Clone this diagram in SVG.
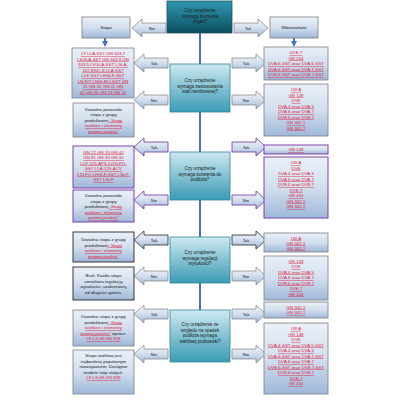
<svg xmlns="http://www.w3.org/2000/svg" width="400" height="400" viewBox="0 0 400 400">
<defs>
<linearGradient id="gBox" x1="0" y1="0" x2="0" y2="1"><stop offset="0" stop-color="#eaf0f8"/><stop offset="0.5" stop-color="#d3dfee"/><stop offset="1" stop-color="#9fb8da"/></linearGradient>
<linearGradient id="gArr" x1="0" y1="0" x2="0" y2="1"><stop offset="0" stop-color="#f2f5fa"/><stop offset="0.5" stop-color="#d3dfee"/><stop offset="1" stop-color="#9db6d8"/></linearGradient>
<linearGradient id="gQ" x1="0" y1="0" x2="0" y2="1"><stop offset="0" stop-color="#cde9f1"/><stop offset="1" stop-color="#3a9bb5"/></linearGradient>
<linearGradient id="gTop" x1="0" y1="0" x2="0" y2="1"><stop offset="0" stop-color="#2f98b0"/><stop offset="1" stop-color="#0b4f60"/></linearGradient>
<path id="arrL" d="M0,0 L10,-9 L10,-5 L34,-5 L34,5 L10,5 L10,9 Z"/>
<path id="arrR" d="M0,-5 L24,-5 L24,-9 L34,0 L24,9 L24,5 L0,5 Z"/>
<marker id="mDown" markerWidth="6" markerHeight="6" refX="3" refY="3" orient="auto" markerUnits="userSpaceOnUse"><path d="M0,0 L6,3 L0,6 Z" fill="#4472c4"/></marker>
</defs>
<style>
text{font-family:"Liberation Sans",Arial,sans-serif;text-anchor:middle}
.t{font-size:4.4px;fill:#1a1a1a}
.r{font-size:4.4px;fill:#e0203c;text-decoration:underline}
.rr{fill:#e0203c;text-decoration:underline}
.q{font-size:4.5px;fill:#1a1a1a}
.lb{font-size:4.3px;fill:#1a1a1a}
.box{fill:url(#gBox);stroke:#7f7f7f;stroke-width:0.8}
.boxp{fill:url(#gBox);stroke:#7030a0;stroke-width:0.9}
.boxd{fill:url(#gBox);stroke:#262626;stroke-width:0.9}
.qbox{fill:url(#gQ);stroke:#31859c;stroke-width:0.8}
.arr{fill:url(#gArr);stroke:#7f7f7f;stroke-width:0.7}
.arrp{fill:url(#gArr);stroke:#7030a0;stroke-width:0.8}
.arrd{fill:url(#gArr);stroke:#262626;stroke-width:0.8}
</style>

<g id="connectors">
<line x1="200" y1="33" x2="200" y2="310" stroke="#4472c4" stroke-width="2"/>
<line x1="105" y1="38" x2="105" y2="44" stroke="#4472c4" stroke-width="2" marker-end="url(#mDown)"/>
<line x1="294" y1="38" x2="294" y2="44" stroke="#4472c4" stroke-width="2" marker-end="url(#mDown)"/>
<use href="#arrL" class="arr" x="132" y="28"/><text class="lb" x="152" y="29.5">Nie</text>
<use href="#arrR" class="arr" x="234" y="28"/><text class="lb" x="248" y="29.5">Tak</text>
<use href="#arrL" class="arr" x="134" y="63"/><text class="lb" x="154" y="64.5">Tak</text>
<use href="#arrR" class="arr" x="232" y="63"/><text class="lb" x="246" y="64.5">Tak</text>
<use href="#arrL" class="arr" x="134" y="100"/><text class="lb" x="154" y="101.5">Nie</text>
<use href="#arrR" class="arr" x="232" y="100"/><text class="lb" x="246" y="101.5">Nie</text>
<use href="#arrL" class="arrp" x="134" y="147"/><text class="lb" x="154" y="148.5">Tak</text>
<use href="#arrR" class="arrp" x="232" y="147"/><text class="lb" x="246" y="148.5">Tak</text>
<use href="#arrL" class="arrp" x="134" y="200"/><text class="lb" x="154" y="201.5">Nie</text>
<use href="#arrR" class="arrp" x="232" y="200"/><text class="lb" x="246" y="201.5">Nie</text>
<use href="#arrL" class="arrd" x="134" y="240"/><text class="lb" x="154" y="241.5">Tak</text>
<use href="#arrR" class="arrd" x="232" y="240"/><text class="lb" x="246" y="241.5">Tak</text>
<use href="#arrL" class="arr" x="134" y="276"/><text class="lb" x="154" y="277.5">Nie</text>
<use href="#arrR" class="arr" x="232" y="276"/><text class="lb" x="246" y="277.5">Nie</text>
<use href="#arrL" class="arr" x="134" y="314"/><text class="lb" x="154" y="315.5">Tak</text>
<use href="#arrR" class="arr" x="232" y="314"/><text class="lb" x="246" y="315.5">Tak</text>
<use href="#arrL" class="arr" x="134" y="354"/><text class="lb" x="154" y="355.5">Nie</text>
<use href="#arrR" class="arr" x="232" y="354"/><text class="lb" x="246" y="355.5">Nie</text>
</g>

<g id="q1"><rect x="167" y="1" width="65" height="32" fill="url(#gTop)" stroke="#1f4e5f" stroke-width="0.8"/>
<text class="q" x="200" y="12">Czy urządzenie</text><text class="q" x="200" y="17.5">wymaga tłumienia</text><text class="q" x="200" y="23">drgań?</text></g>

<g id="stopa"><rect x="82" y="17" width="48" height="21" class="box"/><text class="t" x="106" y="29">Stopa</text></g>
<g id="wibro"><rect x="270" y="17" width="48" height="21" class="box"/><text class="t" x="294" y="29">Wibroizolator</text></g>

<g id="q2"><rect x="170" y="64" width="60" height="48" class="qbox"/>
<text class="q" x="200" y="82">Czy urządzenie</text><text class="q" x="200" y="87.5">wymaga zastosowania</text><text class="q" x="200" y="93">stali nierdzewnej?</text></g>

<g id="r1L"><rect x="72" y="48" width="62" height="50" class="box"/>
<text class="r" x="103" y="55">LF  LLA-SST  GN 343.7</text>
<text class="r" x="103" y="60.5">LSGLA-SST  GN 343.8  GN</text>
<text class="r" x="103" y="66">343.5  LVGLA-SST  LGLA-</text>
<text class="r" x="103" y="71.5">102-ESD-S  LLA-SST</text>
<text class="r" x="103" y="77">LLF-SST  LHGLF-SST</text>
<text class="r" x="103" y="82.5">LN-FIT  LNGLRO-SST  GN</text>
<text class="r" x="103" y="88">31  GN 32  GN 41  GN</text>
<text class="r" x="103" y="93.5">42  GN 20  GN 23  GN 22</text></g>

<g id="r1R"><rect x="264" y="47" width="64" height="33" class="box"/>
<text class="r" x="296" y="54">DVE.7</text>
<text class="r" x="296" y="59.5">GN 454</text>
<text class="r" x="296" y="65">DVA.6-SST oraz DVA.5-SST</text>
<text class="r" x="296" y="70.5">DVA.6-SST oraz DVA.7-SST</text>
<text class="r" x="296" y="76">DVB.6-SST oraz DVB.7-SST</text></g>

<g id="r2L"><rect x="73" y="103" width="61" height="34" class="box"/>
<text class="t" x="103.5" y="110.5">Dowolna pozostała</text>
<text class="t" x="103.5" y="116">stopa z grupy</text>
<text class="t" x="103.5" y="121.5">produktowej <tspan class="rr">„Stopy</tspan></text>
<text class="r" x="103.5" y="127">wahliwe i elementy</text>
<text class="r" x="103.5" y="132.5">promocjonalne”</text></g>

<g id="r2R"><rect x="264" y="84" width="64" height="52" class="box"/>
<text class="r" x="296" y="91">LW.A</text>
<text class="r" x="296" y="96.5">GN 149</text>
<text class="r" x="296" y="102">DVE</text>
<text class="r" x="296" y="107.5">DVA.4 oraz DVA.5</text>
<text class="r" x="296" y="113">DVA.6 oraz DVA.7</text>
<text class="r" x="296" y="118.5">DVB.6 oraz DVB.7</text>
<text class="r" x="296" y="124">GN 342.1</text>
<text class="r" x="296" y="129.5">GN 342.2</text></g>

<g id="q3"><rect x="170" y="152" width="60" height="48" class="qbox"/>
<text class="q" x="200" y="170">Czy urządzenie</text><text class="q" x="200" y="175.5">wymaga kotwienia do</text><text class="q" x="200" y="181">podłoża?</text></g>

<g id="r3L1"><rect x="73" y="146" width="61" height="42" class="boxp"/>
<text class="r" x="103.5" y="153.5">GN 22  GN 20  GN 42</text>
<text class="r" x="103.5" y="159">GN 81  GN 33  GN 32</text>
<text class="r" x="103.5" y="164.5">LLF-125-APS  LVGLFO-</text>
<text class="r" x="103.5" y="170">SST  LLA-125-ACV</text>
<text class="r" x="103.5" y="175.5">LXLFO  LHGLF-SST  LSLF-</text>
<text class="r" x="103.5" y="181">SST  LXLF</text></g>

<g id="r3L2"><rect x="73" y="190" width="61" height="32" class="boxp"/>
<text class="t" x="103.5" y="197">Dowolna pozostała</text>
<text class="t" x="103.5" y="202.5">stopa z grupy</text>
<text class="t" x="103.5" y="208">produktowej <tspan class="rr">„Stopy</tspan></text>
<text class="r" x="103.5" y="213.5">wahliwe i elementy</text>
<text class="r" x="103.5" y="219">promocjonalne”</text></g>

<g id="r3R1"><rect x="264" y="145" width="64" height="9" class="boxp"/>
<text class="r" x="296" y="151">GN 149</text></g>

<g id="r3R2"><rect x="264" y="157" width="64" height="61" class="boxp"/>
<text class="r" x="296" y="164">LW.A</text>
<text class="r" x="296" y="169.5">DVE</text>
<text class="r" x="296" y="175">DVA.4 oraz DVA.5</text>
<text class="r" x="296" y="180.5">DVA.6 oraz DVA.7</text>
<text class="r" x="296" y="186">DVB.6 oraz DVB.7</text>
<text class="r" x="296" y="191.5">DVE.7</text>
<text class="r" x="296" y="197">GN 454</text>
<text class="r" x="296" y="202.5">GN 342.1</text>
<text class="r" x="296" y="208">GN 342.2</text></g>

<g id="q4"><rect x="170" y="237" width="60" height="46" class="qbox"/>
<text class="q" x="200" y="254">Czy urządzenie</text><text class="q" x="200" y="259.5">wymaga regulacji</text><text class="q" x="200" y="265">wysokości?</text></g>

<g id="r4L1"><rect x="73" y="232" width="61" height="30" class="boxd"/>
<text class="t" x="103.5" y="241">Dowolna stopa z grupy</text>
<text class="t" x="103.5" y="246.5">produktowej <tspan class="rr">„Stopy</tspan></text>
<text class="r" x="103.5" y="252">wahliwe i elementy</text>
<text class="r" x="103.5" y="257.5">promocjonalne”</text></g>

<g id="r4L2"><rect x="73" y="267" width="61" height="33" class="boxd"/>
<text class="t" x="103.5" y="277">Brak. Każda stopa</text>
<text class="t" x="103.5" y="282.5">umożliwia regulację</text>
<text class="t" x="103.5" y="288">wysokości, uzależnioną</text>
<text class="t" x="103.5" y="293.5">od długości gwintu.</text></g>

<g id="r4R1"><rect x="264" y="233" width="64" height="19" class="box"/>
<text class="r" x="296" y="239.5">LW.A</text>
<text class="r" x="296" y="244.5">GN 342.1</text>
<text class="r" x="296" y="249.5">GN 342.2</text></g>

<g id="r4R2"><rect x="264" y="256" width="64" height="44" class="box"/>
<text class="r" x="296" y="262.5">GN 149</text>
<text class="r" x="296" y="268">DVE</text>
<text class="r" x="296" y="273.5">DVA.4 oraz DVA.5</text>
<text class="r" x="296" y="279">DVA.6 oraz DVA.7</text>
<text class="r" x="296" y="284.5">DVB.6 oraz DVB.7</text>
<text class="r" x="296" y="290">DVE.7</text>
<text class="r" x="296" y="295.5">GN 454</text></g>

<g id="q5"><rect x="170" y="310" width="60" height="52" class="qbox"/>
<text class="q" x="200" y="326">Czy urządzenie ze</text><text class="q" x="200" y="331.5">względu na spadek</text><text class="q" x="200" y="337">podłoża wymaga</text><text class="q" x="200" y="342.5">wahliwej podstawki?</text></g>

<g id="r5L1"><rect x="73" y="310" width="61" height="36" class="box"/>
<text class="t" x="103.5" y="318">Dowolna stopa z grupy</text>
<text class="t" x="103.5" y="323.5">produktowej <tspan class="rr">„Stopy</tspan></text>
<text class="r" x="103.5" y="329">wahliwe i elementy</text>
<text class="t" x="103.5" y="334.5"><tspan class="rr">promocjonalne”</tspan> oprócz:</text>
<text class="r" x="103.5" y="340">LF  LX-HI  GN 339</text></g>

<g id="r5L2"><rect x="73" y="350" width="61" height="44" class="box"/>
<text class="t" x="103.5" y="357">Stopa wahliwa jest</text>
<text class="t" x="103.5" y="362.5">najbardziej popularnym</text>
<text class="t" x="103.5" y="368">rozwiązaniem. Dostępne</text>
<text class="t" x="103.5" y="373.5">modele stóp stałych:</text>
<text class="r" x="103.5" y="379">LF  LX-HI  GN 339</text></g>

<g id="r5R1"><rect x="264" y="302" width="64" height="16" class="box"/>
<text class="r" x="296" y="308.5">GN 342.1</text>
<text class="r" x="296" y="314">GN 342.2</text></g>

<g id="r5R2"><rect x="264" y="323" width="64" height="71" class="box"/>
<text class="r" x="296" y="330">LW.A</text>
<text class="r" x="296" y="335.5">GN 148</text>
<text class="r" x="296" y="341">DVE</text>
<text class="r" x="296" y="346.5">DVA.4-SST oraz DVA.5-SST</text>
<text class="r" x="296" y="352">DVA.4 oraz DVA.5</text>
<text class="r" x="296" y="357.5">DVA.6-SST oraz DVA.7-SST</text>
<text class="r" x="296" y="363">DVA.6 oraz DVA.7</text>
<text class="r" x="296" y="368.5">DVB.6-SST oraz DVB.7-SST</text>
<text class="r" x="296" y="374">DVB.6 oraz DVB.7</text>
<text class="r" x="296" y="379.5">DVE.7</text>
<text class="r" x="296" y="385">GN 454</text></g>
</svg>
